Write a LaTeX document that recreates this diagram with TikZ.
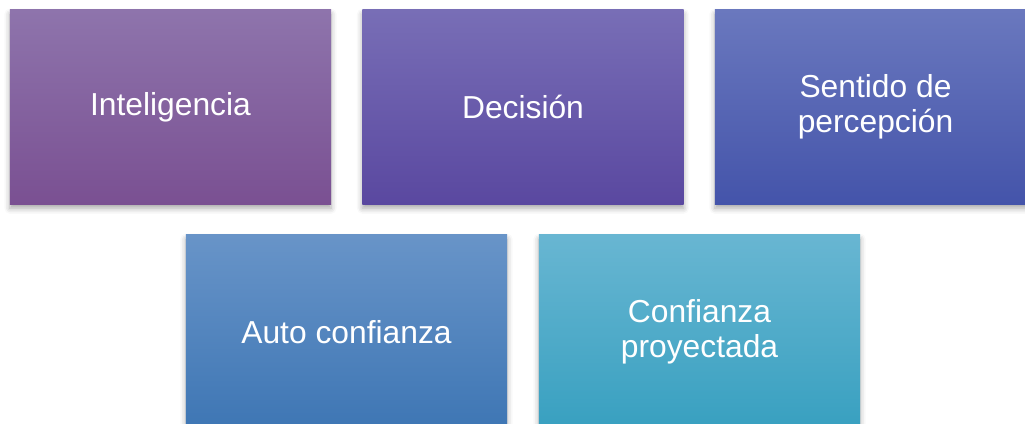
\documentclass[tikz,border=0pt]{standalone}
\usepackage{fontspec}
\setmainfont{Liberation Sans}
\usetikzlibrary{shadows.blur}

% Кольори блоків (верх / низ)
\definecolor{violetA}{RGB}{142,116,172}
\definecolor{violetB}{RGB}{122,80,146}
\definecolor{indigoA}{RGB}{120,110,182}
\definecolor{indigoB}{RGB}{90,72,160}
\definecolor{blueA}{RGB}{106,120,190}
\definecolor{blueB}{RGB}{68,84,170}
\definecolor{steelA}{RGB}{104,148,200}
\definecolor{steelB}{RGB}{62,118,180}
\definecolor{tealA}{RGB}{104,182,210}
\definecolor{tealB}{RGB}{56,160,192}

\begin{document}
\begin{tikzpicture}[x=0.025cm, y=0.025cm, line join=round, line cap=round,
    block/.style={rectangle, minimum width=8.025cm, minimum height=4.85cm,
        inner sep=0pt, align=center, text=white,
        font=\fontsize{22.6}{25}\selectfont,
        blur shadow={shadow xshift=0pt, shadow yshift=-3pt,
            shadow blur radius=4pt, shadow opacity=35}}]

    % Межі рисунка
    \useasboundingbox (0,0) rectangle (1025,423);
    \clip (0,0) rectangle (1025,423);

    % Верхній ряд
    \node[block, top color=violetA, bottom color=violetB] (inteligencia) at (170.5,316) {Inteligencia};
    \node[block, top color=indigoA, bottom color=indigoB] (decision) at (523,316) {Decisión};
    \node[block, top color=blueA, bottom color=blueB] (sentido) at (875.5,316) {Sentido de\\percepción};

    % Нижній ряд
    \node[block, top color=steelA, bottom color=steelB] (auto) at (346.5,91) {Auto confianza};
    \node[block, top color=tealA, bottom color=tealB] (proyectada) at (699.5,91) {Confianza\\proyectada};
\end{tikzpicture}
\end{document}
